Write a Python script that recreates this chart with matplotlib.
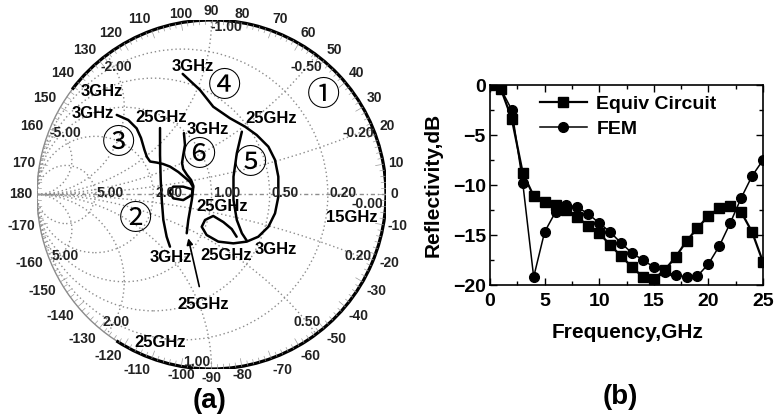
import numpy as np
import matplotlib
matplotlib.use("Agg")
import matplotlib.pyplot as plt
from matplotlib.patches import Circle, Arc

plt.rcParams['font.family'] = ['Liberation Sans', 'DejaVu Sans']
plt.rcParams['font.weight'] = 'bold'
plt.rcParams['axes.labelweight'] = 'bold'

# ---------------- data: reflectivity vs frequency (b) ----------------
freq = [0, 1, 2, 3, 4, 5, 6, 7, 8, 9, 10, 11, 12, 13, 14, 15, 16, 17, 18, 19, 20, 21, 22, 23, 24, 25]
equiv_db = [0, -0.4, -3.4, -8.8, -11.1, -11.7, -12.0, -12.5, -13.2, -14.1, -14.8, -16.0, -17.1,
            -18.2, -19.2, -19.4, -18.5, -17.2, -15.6, -14.3, -13.1, -12.3, -12.1, -12.7, -14.7, -17.7]
fem_db = [0, -0.4, -2.5, -9.8, -19.2, -14.7, -12.7, -12.0, -12.2, -12.9, -13.8, -14.7, -15.8,
          -16.8, -17.5, -18.2, -18.7, -19.0, -19.2, -19.1, -17.9, -16.1, -13.8, -11.3, -9.1, -7.5]
series_names = ["Equiv Circuit", "FEM"]

# ---------------- data: admittance chart traces (a), reflection coefficient ----------------
curve1_deg = (-123, 143)   # trace 1 runs along |G| = 1

curve2_re = [-0.238, -0.257, -0.276, -0.285, -0.291, -0.295, -0.295]
curve2_im = [-0.299, -0.242, -0.146, -0.032, 0.083, 0.226, 0.381]

curve3_re = [-0.543, -0.477, -0.429, -0.404, -0.384, -0.370, -0.352, -0.314, -0.278, -0.238, -0.190,
             -0.152, -0.123, -0.106, -0.113, -0.162, -0.219, -0.242, -0.219, -0.162, -0.113]
curve3_im = [0.456, 0.427, 0.379, 0.324, 0.255, 0.215, 0.189, 0.183, 0.175, 0.160, 0.129,
             0.097, 0.072, 0.043, -0.003, -0.032, -0.022, 0.016, 0.045, 0.045, 0.030]

curve4_re = [-0.165, -0.066, 0.010, 0.106, 0.192, 0.259, 0.326, 0.364, 0.383, 0.383, 0.364, 0.326,
             0.268, 0.202, 0.125, 0.039, -0.028, -0.056, -0.037, 0.010, 0.068, 0.116, 0.144]
curve4_im = [0.691, 0.599, 0.503, 0.437, 0.389, 0.341, 0.274, 0.198, 0.102, -0.013, -0.108, -0.185,
             -0.242, -0.270, -0.280, -0.270, -0.232, -0.185, -0.146, -0.123, -0.158, -0.198, -0.242]

curve5_re = [0.203, 0.174, 0.145, 0.126, 0.126, 0.145, 0.174]
curve5_im = [-0.266, -0.222, -0.146, -0.032, 0.102, 0.236, 0.360]

curve6_re = [-0.158, -0.152, -0.162, -0.169, -0.162, -0.140, -0.117, -0.104, -0.109, -0.113,
             -0.123, -0.133, -0.142]
curve6_im = [0.352, 0.284, 0.226, 0.181, 0.146, 0.112, 0.083, 0.049, -0.003, -0.032,
             -0.089, -0.146, -0.222]

curve_tags = ["\u2460", "\u2461", "\u2462", "\u2463", "\u2464", "\u2465"]
tag_pos = [(0.641, 0.570), (-0.433, -0.146), (-0.534, 0.293),
           (0.077, 0.618), (0.221, 0.179), (-0.066, 0.226)]

freq_notes = [("3GHz", -0.630, 0.590), ("15GHz", 0.805, -0.129), ("25GHz", -0.295, -0.851),
              ("25GHz", -0.287, 0.441), ("3GHz", -0.235, -0.361),
              ("3GHz", -0.679, 0.467), ("25GHz", 0.063, -0.070),
              ("3GHz", -0.106, 0.736), ("25GHz", 0.086, -0.347),
              ("3GHz", 0.367, -0.318), ("25GHz", 0.344, 0.433),
              ("3GHz", -0.023, 0.375)]

g_values = [0.2, 0.5, 1.0, 2.0, 5.0]
b_values = [0.2, 0.5, 1.0, 2.0, 5.0]

fig = plt.figure(figsize=(7.74, 4.17), dpi=100)

# ================= (a) admittance Smith chart =================
ax = fig.add_axes([37 / 774, 48 / 417, 349 / 774, 349 / 417])
ax.set_xlim(-1, 1)
ax.set_ylim(-1, 1)
ax.set_aspect('equal')
ax.axis('off')

grid_kw = dict(color='#8c8c8c', lw=1.0, ls=(0, (1, 2)), fill=False)
unit = Circle((0, 0), 1, transform=ax.transData, fill=False, lw=0)
ax.add_patch(unit)
for g in g_values:
    ax.add_patch(Circle((-g / (1 + g), 0), 1 / (1 + g), **grid_kw))
for b in b_values:
    for s in (1, -1):
        c = Circle((-1, -s / b), 1 / b, **grid_kw)
        ax.add_patch(c)
        c.set_clip_path(unit)
ax.plot([-1, 1], [0, 0], color='#8c8c8c', lw=1.0, ls=(0, (3, 2, 1, 2)))

# outer rim with degree ticks
ax.add_patch(Circle((0, 0), 1, fill=False, color='#8a8a8a', lw=1.0))
for a in range(0, 360, 2):
    t = np.deg2rad(a)
    r0 = 0.955 if a % 10 == 0 else 0.975
    ax.plot([np.cos(t), r0 * np.cos(t)], [np.sin(t), r0 * np.sin(t)], color='#9a9a9a', lw=0.5)

for a in range(-170, 181, 10):
    t = np.deg2rad(a)
    c, s = np.cos(t), np.sin(t)
    ha = 'left' if c > 0.2 else ('right' if c < -0.2 else 'center')
    va = 'bottom' if s > 0.2 else ('top' if s < -0.2 else 'center')
    r = 1.01 if abs(c) < 0.2 else 1.025
    ax.text(r * c, r * s, str(a), ha=ha, va=va, fontsize=10, color='#222222', clip_on=False)

# value labels
for g in g_values:
    ax.text((1 - g) / (1 + g) + 0.01, 0.008, f"{g:.2f}", ha='left', va='center',
            fontsize=10, color='#222222')
ax.text(0.985, -0.015, "-0.00", ha='right', va='top', fontsize=10, color='#222222')
for b in b_values:
    for s in (-1, 1):
        th = -2 * np.degrees(np.arctan(s * b))
        r = 0.91
        if b == 1.0:
            th -= 5
            r = 0.965
        t = np.deg2rad(th)
        ax.text(r * np.cos(t), r * np.sin(t), f"{s * b:.2f}", ha='center', va='center',
                fontsize=10, color='#222222')

# traces
ax.add_patch(Arc((0, 0), 2, 2, theta1=curve1_deg[0], theta2=curve1_deg[1], color='black', lw=2.3))
for xr, yi in [(curve2_re, curve2_im), (curve3_re, curve3_im), (curve4_re, curve4_im),
               (curve5_re, curve5_im), (curve6_re, curve6_im)]:
    ax.plot(xr, yi, color='black', lw=1.8, solid_joinstyle='round', solid_capstyle='round')

for txt, x, y in freq_notes:
    ax.text(x, y, txt, ha='center', va='center', fontsize=12)
ax.annotate("25GHz", xy=(-0.133, -0.251), xytext=(-0.046, -0.633), ha='center', va='center',
            fontsize=12, arrowprops=dict(arrowstyle='-|>', color='black', lw=1.2,
                                         shrinkA=6, shrinkB=0, mutation_scale=9))
for tag, (x, y) in zip(curve_tags, tag_pos):
    ax.text(x, y, tag, ha='center', va='center', fontsize=24, fontweight='normal',
            family=['Noto Sans CJK JP', 'DejaVu Sans'])

fig.text(210 / 774, 1 - 401 / 417, "(a)", ha='center', va='center', fontsize=20)

# ================= (b) reflectivity =================
ax2 = fig.add_axes([490 / 774, 132 / 417, 273 / 774, 200 / 417])
ax2.plot(freq, equiv_db, color='black', lw=1.6, marker='s', ms=6.5, label=series_names[0])
ax2.plot(freq, fem_db, color='black', lw=1.1, marker='o', ms=7, label=series_names[1])
ax2.set_xlim(0, 25)
ax2.set_ylim(-20, 0)
ax2.set_xticks([0, 5, 10, 15, 20, 25])
ax2.set_yticks([0, -5, -10, -15, -20])
ax2.set_xticks(np.arange(0, 25.1, 2.5), minor=True)
ax2.set_yticks(np.arange(-20, 0.1, 2.5), minor=True)
ax2.tick_params(which='both', direction='in', top=True, right=True, width=1.0)
ax2.tick_params(which='major', length=5, labelsize=14)
ax2.tick_params(which='minor', length=3)
ax2.tick_params(axis='x', pad=6)
ax2.tick_params(axis='y', pad=3)
for lab in ax2.get_xticklabels() + ax2.get_yticklabels():
    lab.set_fontweight('bold')
for sp in ax2.spines.values():
    sp.set_linewidth(1.2)
ax2.set_xlabel("Frequency,GHz", fontsize=15, fontweight='bold')
ax2.set_ylabel("Reflectivity,dB", fontsize=15, fontweight='bold')
ax2.xaxis.set_label_coords(0.505, -0.19)
ax2.yaxis.set_label_coords(-0.175, 0.5)
ax2.legend(loc='upper left', bbox_to_anchor=(0.183, 0.95), frameon=False,
           prop={'size': 14, 'weight': 'bold'},
           numpoints=1, handlelength=2.4, handletextpad=0.5, labelspacing=0.4,
           borderpad=0, borderaxespad=0)

fig.text(620 / 774, 1 - 397 / 417, "(b)", ha='center', va='center', fontsize=20)

fig.savefig("out.png", dpi=100)
